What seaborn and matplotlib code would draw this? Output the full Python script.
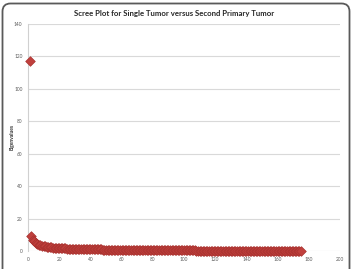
import matplotlib
matplotlib.use("Agg")
import matplotlib.pyplot as plt
import matplotlib.patches as mpatches
import matplotlib.transforms as mtransforms
import seaborn as sns
import pandas as pd

title = "Scree Plot for Single Tumor versus Second Primary Tumor"
y_label = "Eigenvalues"
x_ticks = [0, 20, 40, 60, 80, 100, 120, 140, 160, 180, 200]
y_ticks = [0, 20, 40, 60, 80, 100, 120, 140]

eigenvalues = [
    117.0, 9.0, 7.0, 5.9, 5.1, 4.5, 4.0, 3.6, 3.3, 3.0,
    2.8, 2.6, 2.45, 2.3, 2.2, 2.1, 2.0, 1.92, 1.85, 1.78,
    1.72, 1.66, 1.61, 1.56, 1.51, 1.47, 1.43, 1.39, 1.35, 1.32,
    1.29, 1.26, 1.23, 1.20, 1.17, 1.15, 1.12, 1.10, 1.08, 1.06,
    1.04, 1.02, 1.00, 0.98, 0.96, 0.95, 0.93, 0.91, 0.90, 0.88,
    0.87, 0.85, 0.84, 0.83, 0.81, 0.80, 0.79, 0.78, 0.76, 0.75,
    0.74, 0.73, 0.72, 0.71, 0.70, 0.69, 0.68, 0.67, 0.66, 0.65,
    0.64, 0.63, 0.62, 0.61, 0.60, 0.59, 0.58, 0.57, 0.56, 0.55,
    0.54, 0.53, 0.52, 0.51, 0.50, 0.49, 0.48, 0.47, 0.46, 0.45,
    0.44, 0.43, 0.43, 0.42, 0.41, 0.40, 0.39, 0.38, 0.37, 0.36,
    0.36, 0.35, 0.34, 0.33, 0.32, 0.31, 0.31, 0.30, 0.29, 0.28,
    0.27, 0.27, 0.26, 0.25, 0.24, 0.24, 0.23, 0.22, 0.21, 0.21,
    0.20, 0.19, 0.19, 0.18, 0.17, 0.17, 0.16, 0.15, 0.15, 0.14,
    0.13, 0.13, 0.12, 0.12, 0.11, 0.10, 0.10, 0.09, 0.09, 0.08,
    0.08, 0.07, 0.07, 0.06, 0.06, 0.05, 0.05, 0.05, 0.04, 0.04,
    0.04, 0.03, 0.03, 0.03, 0.03, 0.02, 0.02, 0.02, 0.02, 0.02,
    0.01, 0.01, 0.01, 0.01, 0.01, 0.01, 0.01, 0.01, 0.01, 0.01,
    0.01, 0.00, 0.00, 0.00, 0.00,
]
components = list(range(1, len(eigenvalues) + 1))

df = pd.DataFrame({"Component": components, "Eigenvalue": eigenvalues})

sns.set_style("white")
plt.rcParams["font.family"] = ["Lato", "DejaVu Sans"]

W, H = 353, 269
fig = plt.figure(figsize=(W / 100, H / 100), dpi=100)
ax = fig.add_axes([28 / W, 1 - 251 / H, (340 - 28) / W, (251 - 24) / H])

sns.scatterplot(data=df, x="Component", y="Eigenvalue", ax=ax, marker="D",
                s=24, color="#C0403D", edgecolor="#A8322F", linewidth=0.5,
                zorder=3, clip_on=False)

ax.set_xlim(0, 200)
ax.set_ylim(0, 140)
ax.set_xticks(x_ticks)
ax.set_yticks(y_ticks)
ax.set_xticklabels([str(t) for t in x_ticks])
ax.set_yticklabels([str(t) for t in y_ticks])
ax.tick_params(axis="both", labelsize=3.4, colors="#595959", length=0, pad=4)
ax.yaxis.grid(True, color="#d9d9d9", linewidth=0.8)
ax.xaxis.grid(False)
for s in ["top", "right", "bottom"]:
    ax.spines[s].set_visible(False)
ax.spines["left"].set_color("#d0d0d0")
ax.spines["left"].set_linewidth(0.8)
ax.set_xlabel("")
ax.set_ylabel("")

fig.text(12 / W, 1 - 137 / H, y_label, rotation=90, ha="center", va="center",
         fontsize=3.6, fontweight="bold", color="#333333")

fig.text(0.5 * (72 + 277) / W, 1 - 14 / H, title, ha="center", va="center",
         fontsize=5.6, fontweight="bold", color="#262626")

border = mpatches.FancyBboxPatch((2.5, -20), 347, 285.5,
                                 boxstyle="round,pad=0,rounding_size=8",
                                 transform=mtransforms.IdentityTransform(),
                                 facecolor="none", edgecolor="#5a5a5a",
                                 linewidth=1.3)
fig.patches.append(border)

fig.savefig("out.png", dpi=100)
